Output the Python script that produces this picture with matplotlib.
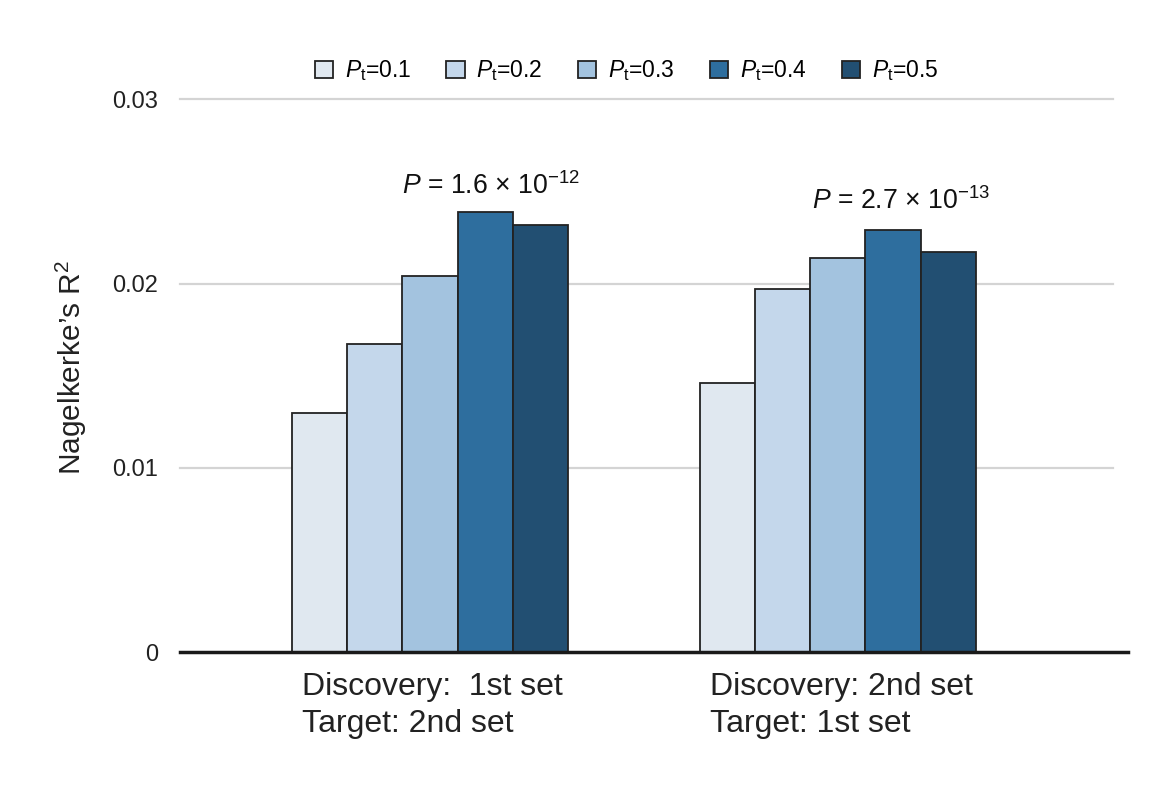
import matplotlib
matplotlib.use('Agg')
import matplotlib.pyplot as plt
import numpy as np

plt.rcParams['font.family'] = ['Liberation Sans', 'DejaVu Sans']
plt.rcParams['mathtext.fontset'] = 'custom'
plt.rcParams['mathtext.rm'] = 'Liberation Sans'
plt.rcParams['mathtext.it'] = 'Liberation Sans:italic'

# Data
group_line1 = ['Discovery:  1st set', 'Discovery: 2nd set']
group_line2 = ['Target: 2nd set', 'Target: 1st set']
thresholds = ['0.1', '0.2', '0.3', '0.4', '0.5']
r2_values = [
    [0.0130, 0.0146],   # Pt=0.1
    [0.0167, 0.0197],   # Pt=0.2
    [0.0204, 0.0214],   # Pt=0.3
    [0.0239, 0.0229],   # Pt=0.4
    [0.0232, 0.0217],   # Pt=0.5
]
p_labels = [r'$\mathit{P}$ = 1.6 × 10$^{-12}$', r'$\mathit{P}$ = 2.7 × 10$^{-13}$']
colors = ['#e0e8f0', '#c4d7eb', '#a3c3df', '#2e6e9e', '#224f72']

fig = plt.figure(figsize=(11.56, 7.89), dpi=100)
ax = fig.add_axes([0.1557, 0.1736, 0.820, 0.7003])

x = np.arange(len(group_line1))
width = 0.1353

for i, vals in enumerate(r2_values):
    ax.bar(x + (i - 2) * width, vals, width, color=colors[i], edgecolor='#222222',
           linewidth=1.3, label=r'$\mathit{P}_\mathrm{t}$=' + thresholds[i], zorder=3)

# annotations with P values
ax.text(x[0] + 0.15, 0.02488, p_labels[0], ha='center', va='baseline', fontsize=19.2, color='#111111')
ax.text(x[1] + 0.155, 0.02407, p_labels[1], ha='center', va='baseline', fontsize=19.2, color='#111111')

ax.set_xlim(-0.613, 1.711)
ax.set_ylim(0, 0.03)

# gridlines stop a bit short of the baseline end
xmax_grid = (1113 - 180) / (1128 - 180)
for yv in [0.01, 0.02, 0.03]:
    ax.axhline(yv, xmin=0, xmax=xmax_grid, color='#d4d4d4', linewidth=1.6, zorder=1, clip_on=False)
ax.axhline(0, color='#1a1a1a', linewidth=2.5, zorder=4, clip_on=False)

for s in ['top', 'right', 'left', 'bottom']:
    ax.spines[s].set_visible(False)

ax.set_yticks([0, 0.01, 0.02, 0.03])
ax.set_yticklabels(['0', '0.01', '0.02', '0.03'])
ax.tick_params(axis='y', length=0, pad=16, labelsize=17, labelcolor='#222222')
ax.set_xticks([])

fig.text(71 / 1156, 1 - 367 / 789, 'Nagelkerke’s R$^2$', rotation=90, ha='center', va='center',
         fontsize=21.5, color='#222222')

# category labels, left aligned under each group
left_edge = x - 2.5 * width + 0.025
for xi, l1, l2 in zip(left_edge, group_line1, group_line2):
    ax.text(xi, -0.00233, l1, ha='left', va='baseline', fontsize=23, color='#222222')
    ax.text(xi, -0.00434, l2, ha='left', va='baseline', fontsize=23, color='#222222')

handles, labels = ax.get_legend_handles_labels()
fig.legend(handles, labels, loc='center', bbox_to_anchor=(0.542, 0.910), ncol=5,
           frameon=False, fontsize=16.5, handlelength=0.8, handleheight=0.8,
           handletextpad=0.5, columnspacing=1.55)

fig.savefig('out.png', dpi=100, facecolor='white')
